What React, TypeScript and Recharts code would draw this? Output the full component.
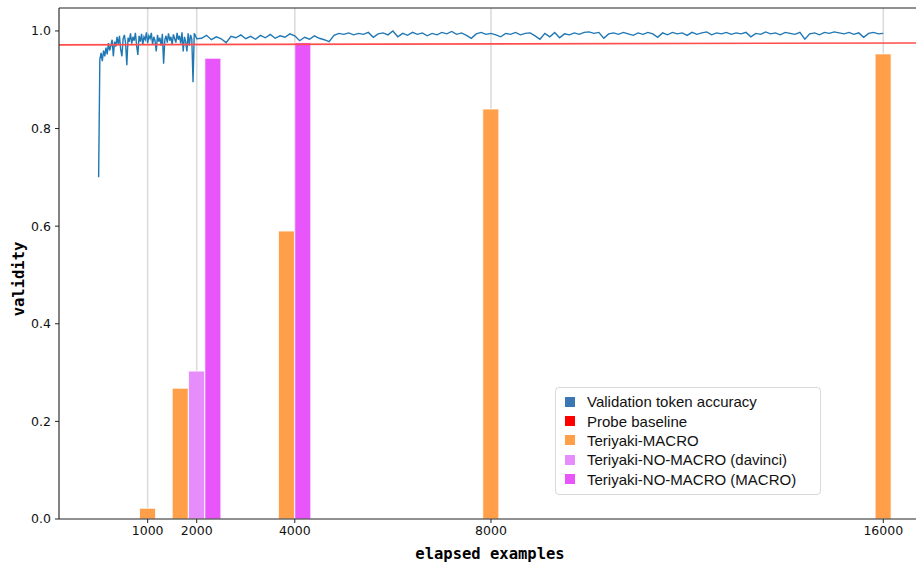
import React from 'react';
import { ComposedChart, Line, Bar, XAxis, YAxis, CartesianGrid, ReferenceLine } from 'recharts';

// ---------- data ----------
const X_TICKS = [1000, 2000, 4000, 8000, 16000];
const Y_TICKS = [0, 0.2, 0.4, 0.6, 0.8, 1.0];
const X_DOMAIN = [-808, 16973];
const Y_DOMAIN = [0, 1.047];

// validation token accuracy, first part (every 25 examples from 0 to 2000)
const EARLY_STEP = 25;
const EARLY_ACC = [
  0.700, 0.942, 0.955, 0.938, 0.960, 0.948, 0.966, 0.952, 0.975, 0.960,
  0.970, 0.982, 0.948, 0.978, 0.968, 0.988, 0.972, 0.990, 0.962, 0.948,
  0.984, 0.992, 0.975, 0.930, 0.986, 0.978, 0.995, 0.974, 0.988, 0.980,
  0.996, 0.970, 0.951, 0.990, 0.978, 0.994, 0.972, 0.988, 0.982, 0.997,
  0.975, 0.990, 0.984, 0.996, 0.972, 0.988, 0.980, 0.958, 0.992, 0.978,
  0.986, 0.970, 0.994, 0.933, 0.982, 0.990, 0.976, 0.995, 0.980, 0.988,
  0.972, 0.993, 0.984, 0.976, 0.996, 0.982, 0.990, 0.974, 0.997, 0.958,
  0.988, 0.978, 0.958, 0.995, 0.970, 0.992, 0.984, 0.895, 0.995, 0.990,
  0.984,
];

// validation token accuracy, later part (every 100 examples from 2100 to 16000)
const LATE_START = 2100;
const LATE_STEP = 100;
const LATE_ACC = [
  0.985, 0.991, 0.982, 0.988, 0.984, 0.976, 0.989, 0.986, 0.992, 0.984,
  0.989, 0.983, 0.991, 0.986, 0.993, 0.985, 0.990, 0.987, 0.994, 0.990,
  0.980, 0.987, 0.983, 0.990, 0.985, 0.982, 0.978, 0.991, 0.995, 0.993,
  0.996, 0.992, 0.995, 0.993, 0.997, 0.987, 0.994, 0.996, 0.992, 1.000,
  0.988, 0.995, 0.991, 0.997, 0.993, 0.996, 0.990, 0.995, 0.992, 0.997,
  0.994, 0.999, 0.993, 0.996, 0.991, 0.985, 0.994, 0.997, 0.993, 0.995,
  0.992, 0.988, 0.995, 0.993, 0.997, 0.992, 0.995, 0.996, 0.990, 0.983,
  0.995, 0.988, 0.997, 0.986, 0.994, 0.992, 0.996, 0.993, 0.997, 0.998,
  0.995, 0.997, 0.985, 0.994, 0.996, 0.993, 0.997, 0.994, 0.991, 0.996,
  0.993, 0.997, 0.994, 0.987, 0.996, 0.992, 0.997, 0.994, 0.996, 0.991,
  0.997, 0.993, 0.996, 0.998, 0.992, 0.996, 0.994, 0.997, 0.993, 0.996,
  0.994, 0.997, 0.988, 0.995, 0.993, 0.998, 0.994, 0.996, 0.992, 0.997,
  0.995, 0.993, 0.997, 0.983, 0.994, 0.996, 0.992, 0.997, 0.995, 0.998,
  0.996, 0.994, 0.997, 0.993, 0.996, 0.987, 0.995, 0.997, 0.994, 0.995,
];

// probe baseline (two end points)
const PROBE_X = [-808, 16973];
const PROBE_Y = [0.9715, 0.9755];

// bar groups
const BAR_GROUPS = [1000, 2000, 4000, 8000, 16000];
const TERIYAKI_MACRO = [0.022, 0.268, 0.590, 0.840, 0.953];
const NO_MACRO_DAVINCI = [null, 0.303, null, null, null];
const NO_MACRO_MACRO = [null, 0.944, 0.976, null, null];

const SERIES_NAMES = [
  'Validation token accuracy',
  'Probe baseline',
  'Teriyaki-MACRO',
  'Teriyaki-NO-MACRO (davinci)',
  'Teriyaki-NO-MACRO (MACRO)',
];

// ---------- styles ----------
const COLORS = {
  acc: '#1f77b4',
  probe: '#ff4d4d',
  macro: '#ff9f4a',
  davinci: '#e68cfb',
  nomacro: '#e755fb',
};
const LEGEND_COLORS = ['#3b78b3', '#ff0000', '#ff9f4a', '#e68cfb', '#e755fb'];
const GROUP_SLOT = 333; // width of one bar slot in x units

// ---------- tables ----------
const barSeries = [
  { key: 'macro', values: TERIYAKI_MACRO },
  { key: 'davinci', values: NO_MACRO_DAVINCI },
  { key: 'nomacro', values: NO_MACRO_MACRO },
];

const barRows: any[] = [];
BAR_GROUPS.forEach((g, i) => {
  const present = barSeries.filter((s) => s.values[i] != null);
  present.forEach((s, j) => {
    barRows.push({ x: g + (j - (present.length - 1) / 2) * GROUP_SLOT, [s.key]: s.values[i] });
  });
});
barRows.sort((a, b) => a.x - b.x);

const accRows = [
  ...EARLY_ACC.map((v, i) => ({ x: i * EARLY_STEP, acc: v })),
  ...LATE_ACC.map((v, i) => ({ x: LATE_START + i * LATE_STEP, acc: v })),
];
const probeRows = PROBE_X.map((x, i) => ({ x, probe: PROBE_Y[i] }));

const tickStyle = { fontSize: 12.5, fill: '#111', fontFamily: 'DejaVu Sans' };
const axisLabelStyle: React.CSSProperties = {
  fontFamily: 'DejaVu Sans Mono',
  fontWeight: 'bold',
  fontSize: 15.5,
  fill: '#000',
};

export default function App() {
  return (
    <div style={{ position: 'absolute', left: 0, top: 0, width: 916, height: 563, overflow: 'hidden', background: '#fff' }}>
      <ComposedChart
        width={940}
        height={563}
        data={barRows}
        margin={{ top: 8, right: 9, bottom: 0, left: 0 }}
      >
        <CartesianGrid horizontal={false} stroke="#dcdcdc" strokeWidth={1.6} />
        <XAxis
          dataKey="x"
          type="number"
          domain={X_DOMAIN}
          allowDataOverflow
          ticks={X_TICKS}
          interval={0}
          height={44}
          tickSize={4}
          tickMargin={3}
          tick={tickStyle}
          stroke="#222"
          tickLine={{ stroke: '#222' }}
          axisLine={{ stroke: '#222', strokeWidth: 1 }}
          label={{
            content: () => (
              <text x={490} y={559} textAnchor="middle" style={axisLabelStyle}>
                elapsed examples
              </text>
            ),
          }}
        />
        <XAxis xAxisId="line" dataKey="x" type="number" domain={X_DOMAIN} allowDataOverflow hide />
        <YAxis
          type="number"
          domain={Y_DOMAIN}
          allowDataOverflow
          ticks={Y_TICKS}
          interval={0}
          width={59}
          tickSize={4}
          tickMargin={4}
          tick={tickStyle}
          tickFormatter={(v: number) => v.toFixed(1)}
          stroke="#222"
          axisLine={{ stroke: '#222', strokeWidth: 1 }}
          label={{
            content: () => (
              <text
                x={24}
                y={279}
                textAnchor="middle"
                transform="rotate(-90, 24, 279)"
                style={axisLabelStyle}
              >
                validity
              </text>
            ),
          }}
        />
        <ReferenceLine y={Y_DOMAIN[1]} stroke="#222" strokeWidth={1} />
        <Bar dataKey="macro" name={SERIES_NAMES[2]} stackId="b" fill={COLORS.macro} stroke="#fff" strokeWidth={0.8} barSize={16} isAnimationActive={false} />
        <Bar dataKey="davinci" name={SERIES_NAMES[3]} stackId="b" fill={COLORS.davinci} stroke="#fff" strokeWidth={0.8} barSize={16} isAnimationActive={false} />
        <Bar dataKey="nomacro" name={SERIES_NAMES[4]} stackId="b" fill={COLORS.nomacro} stroke="#fff" strokeWidth={0.8} barSize={16} isAnimationActive={false} />
        <Line xAxisId="line" data={accRows} dataKey="acc" name={SERIES_NAMES[0]} stroke={COLORS.acc} strokeWidth={1.4} dot={false} activeDot={false} isAnimationActive={false} />
        <Line xAxisId="line" data={probeRows} dataKey="probe" name={SERIES_NAMES[1]} stroke={COLORS.probe} strokeWidth={1.6} dot={false} activeDot={false} isAnimationActive={false} />
      </ComposedChart>
      <div
        style={{
          position: 'absolute',
          left: 555,
          top: 387,
          width: 266,
          height: 108,
          boxSizing: 'border-box',
          border: '1px solid #d9d9d9',
          borderRadius: 4,
          background: 'rgba(255,255,255,0.85)',
          fontFamily: 'Liberation Sans',
          fontSize: 15,
          color: '#111',
          padding: '4px 0 0 9px',
        }}
      >
        {SERIES_NAMES.map((name, i) => (
          <div key={name} style={{ display: 'flex', alignItems: 'center', height: 19.4, whiteSpace: 'nowrap' }}>
            <span style={{ display: 'inline-block', width: 10, height: 10, background: LEGEND_COLORS[i], marginRight: 12 }} />
            <span>{name}</span>
          </div>
        ))}
      </div>
    </div>
  );
}
